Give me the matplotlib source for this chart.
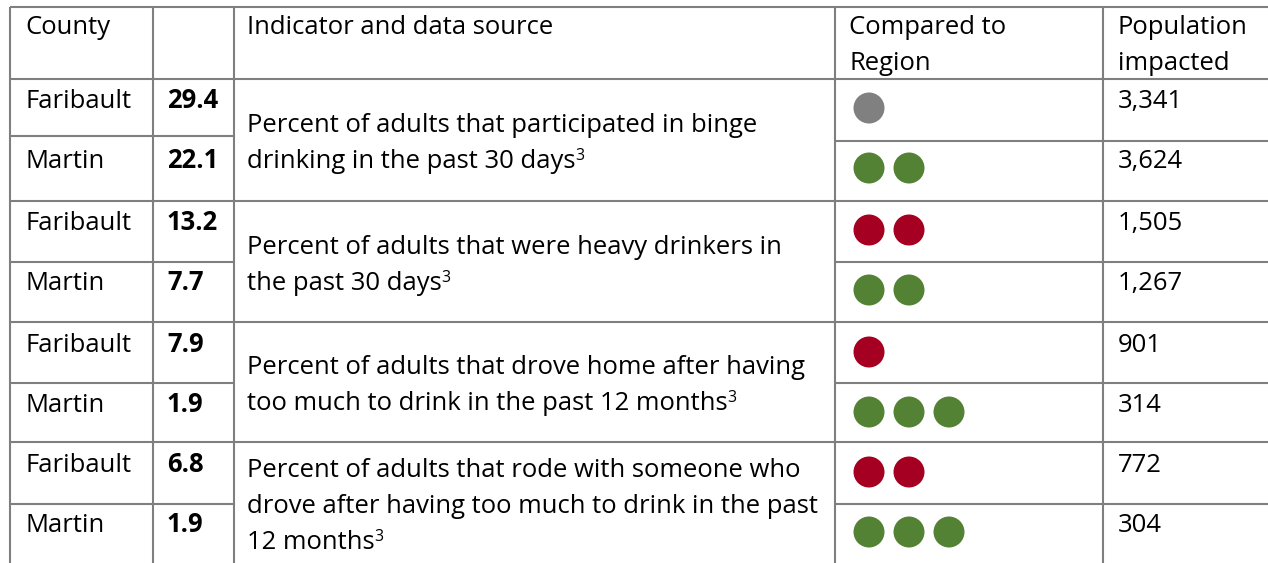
import matplotlib
matplotlib.use("Agg")
import matplotlib.pyplot as plt
from matplotlib.patches import Circle

plt.rcParams['font.family'] = ['Open Sans', 'DejaVu Sans']

# ---------------- data ----------------
headers = ["County", "", "Indicator and data source", "Compared to\nRegion", "Population\nimpacted"]
counties = ["Faribault", "Martin", "Faribault", "Martin", "Faribault", "Martin", "Faribault", "Martin"]
values = ["29.4", "22.1", "13.2", "7.7", "7.9", "1.9", "6.8", "1.9"]
indicators = [
    ["Percent of adults that participated in binge", "drinking in the past 30 days"],
    ["Percent of adults that were heavy drinkers in", "the past 30 days"],
    ["Percent of adults that drove home after having", "too much to drink in the past 12 months"],
    ["Percent of adults that rode with someone who",
     "drove after having too much to drink in the past", "12 months"],
]
footnote = "3"
compare_count = [1, 2, 2, 2, 1, 3, 2, 3]
compare_rating = ["same", "better", "worse", "better", "worse", "better", "worse", "better"]
population = ["3,341", "3,624", "1,505", "1,267", "901", "314", "772", "304"]

# ---------------- style / layout ----------------
rating_colors = {"same": "#808080", "better": "#548235", "worse": "#A50021"}
line_color = "#7f7f7f"
W, H = 1268, 563
col_edges = [10, 153, 234, 835, 1103]
text_x = [25, 167, 247, 849, 1118]
top_y = 7
header_bottom = 79
group_edges = [79, 201, 322, 442, 564]
row_split_left = [136, 262, 383, 504]
row_split_right = [141, 262, 383, 504]
row_baselines = [108, 168, 230, 290, 352, 412, 472, 532]
line_gap = 36
dot_r = 15.5
dot_step = 40
dot_x0 = 869

fig = plt.figure(figsize=(W / 100, H / 100), dpi=100)
ax = fig.add_axes([0, 0, 1, 1])
ax.set_xlim(0, W)
ax.set_ylim(H, 0)
ax.set_aspect('equal')
ax.axis('off')
renderer = fig.canvas.get_renderer()

# choose font size so the first indicator line spans ~512 px like the original
probe = ax.text(0, 0, indicators[0][0], fontsize=10)
pw = probe.get_window_extent(renderer=renderer).width
probe.remove()
fs = 10 * 512 / pw

lw = 1.5
for y in [top_y, header_bottom] + group_edges[1:-1]:
    ax.plot([col_edges[0], W], [y, y], color=line_color, lw=lw, solid_capstyle='butt')
for yl, yr in zip(row_split_left, row_split_right):
    ax.plot([col_edges[0], col_edges[2]], [yl, yl], color=line_color, lw=lw, solid_capstyle='butt')
    ax.plot([col_edges[3], W], [yr, yr], color=line_color, lw=lw, solid_capstyle='butt')
for x in col_edges:
    ax.plot([x, x], [top_y, H], color=line_color, lw=lw, solid_capstyle='butt')

for i, h in enumerate(headers):
    for k, line in enumerate(h.split("\n")):
        ax.text(text_x[i], 34 + k * line_gap, line, fontsize=fs, va='baseline', ha='left', color='black')

for r in range(len(counties)):
    yb = row_baselines[r]
    ax.text(text_x[0], yb, counties[r], fontsize=fs, va='baseline', ha='left')
    ax.text(text_x[1], yb, values[r], fontsize=fs, va='baseline', ha='left', fontweight='bold')
    ax.text(text_x[4], yb, population[r], fontsize=fs, va='baseline', ha='left')
    for d in range(compare_count[r]):
        ax.add_patch(Circle((dot_x0 + d * dot_step, yb), dot_r,
                            color=rating_colors[compare_rating[r]], lw=0))

fig.canvas.draw()
inv = ax.transData.inverted()
for g, lines in enumerate(indicators):
    center = (group_edges[g] + group_edges[g + 1]) / 2 + 10
    n = len(lines)
    for k, line in enumerate(lines):
        yb = center + (k - (n - 1) / 2) * line_gap
        last = ax.text(text_x[2], yb, line, fontsize=fs, va='baseline', ha='left')
        last_y = yb
    bb = last.get_window_extent(renderer=renderer)
    x_end = inv.transform((bb.x1, bb.y0))[0]
    ax.text(x_end, last_y - 8, footnote, fontsize=fs * 0.62, va='baseline', ha='left')

fig.savefig("out.png", dpi=100)
